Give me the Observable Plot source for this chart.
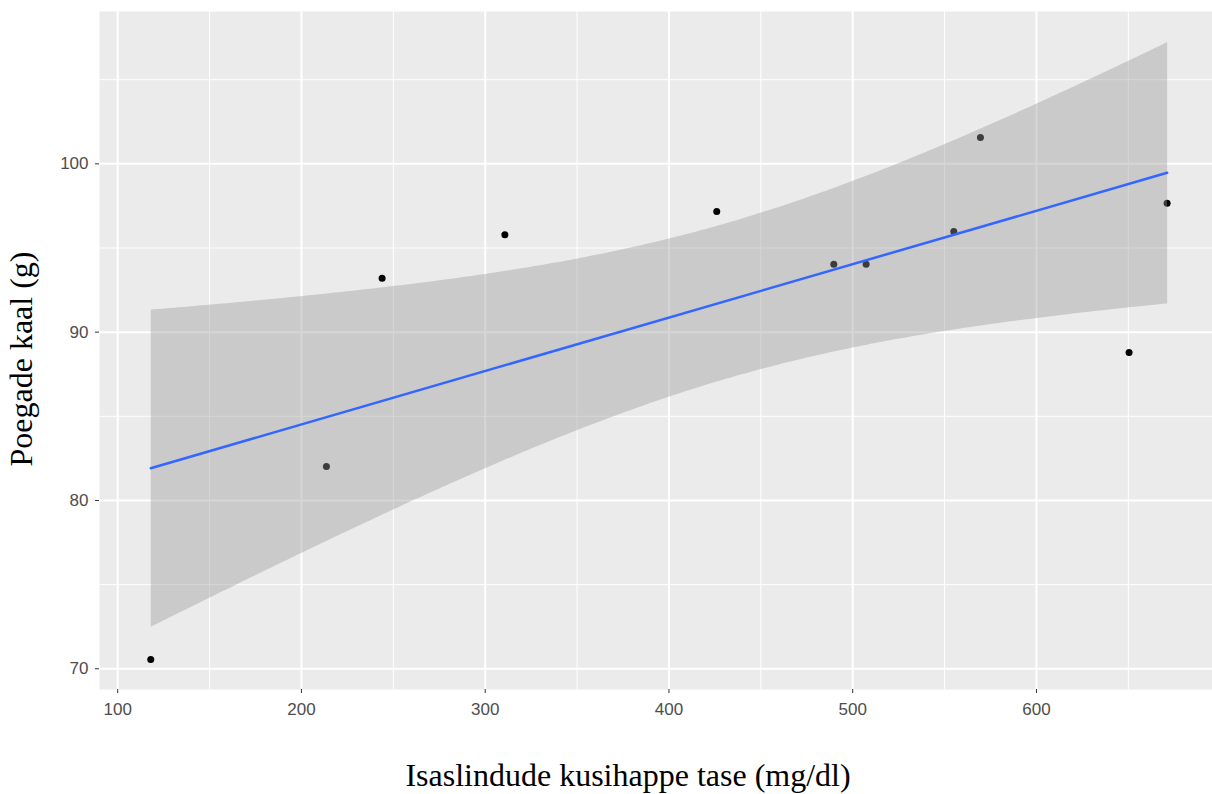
<!DOCTYPE html>
<html>
<head>
<meta charset="utf-8">
<script src="https://cdn.jsdelivr.net/npm/d3@7"></script>
<script src="https://cdn.jsdelivr.net/npm/@observablehq/plot@0.6"></script>
<style>
  html, body { margin: 0; padding: 0; background: #ffffff; overflow: hidden; }
  #chart svg { display: block; }
</style>
</head>
<body>
<div id="chart"></div>
<script>
// Data
const uricAcid = [118.0, 213.6, 243.9, 310.7, 426.0, 489.7, 507.3, 555.0, 569.5, 650.4, 671.1];
const weight   = [70.55, 82.02, 93.20, 95.78, 97.17, 94.04, 94.04, 95.98, 101.56, 88.79, 97.66];

const xMajor = [100, 200, 300, 400, 500, 600];
const xMinor = [150, 250, 350, 450, 550, 650];
const yMajor = [70, 80, 90, 100];
const yMinor = [75, 85, 95, 105];

const xTitle = "Isaslindude kusihappe tase (mg/dl)";
const yTitle = "Poegade kaal (g)";

const points = uricAcid.map((x, i) => ({x, y: weight[i]}));

const chart = Plot.plot({
  width: 1212,
  height: 794,
  marginTop: 11,
  marginBottom: 105,
  marginLeft: 99,
  marginRight: 0,
  style: {background: "#ffffff", overflow: "visible"},
  x: {domain: [90.1, 695.8]},
  y: {domain: [68.77, 109.05]},
  marks: [
    Plot.frame({fill: "#EBEBEB", stroke: null}),
    Plot.ruleX(xMinor, {stroke: "#ffffff", strokeWidth: 1}),
    Plot.ruleY(yMinor, {stroke: "#ffffff", strokeWidth: 1}),
    Plot.ruleX(xMajor, {stroke: "#ffffff", strokeWidth: 2}),
    Plot.ruleY(yMajor, {stroke: "#ffffff", strokeWidth: 2}),
    Plot.dot(points, {x: "x", y: "y", r: 3.5, fill: "#000000", stroke: null}),
    Plot.linearRegressionY(points, {
      x: "x", y: "y",
      fill: "#999999", fillOpacity: 0.4,
      stroke: "#3366FF", strokeWidth: 2.5
    }),
    Plot.axisX(xMajor, {
      tickSize: 4, tickPadding: 9, stroke: "#333333",
      fill: "#4D4D4D", fontSize: 17, fontFamily: "Liberation Sans, Arial, sans-serif",
      label: null
    }),
    Plot.axisY(yMajor, {
      tickSize: 4, tickPadding: 7, stroke: "#333333",
      fill: "#4D4D4D", fontSize: 17, fontFamily: "Liberation Sans, Arial, sans-serif",
      label: null
    }),
    Plot.text([xTitle], {
      text: d => d, frameAnchor: "bottom", textAnchor: "middle", lineAnchor: "middle",
      dy: 86, dx: -28,
      fontSize: 32, fontFamily: "Liberation Serif, Times New Roman, serif", fill: "#000000"
    }),
    Plot.text([yTitle], {
      text: d => d, frameAnchor: "left", textAnchor: "middle", lineAnchor: "middle",
      rotate: -90, dx: -78, dy: 8.5,
      fontSize: 32, fontFamily: "Liberation Serif, Times New Roman, serif", fill: "#000000"
    })
  ]
});

document.getElementById("chart").appendChild(chart);
</script>
</body>
</html>
